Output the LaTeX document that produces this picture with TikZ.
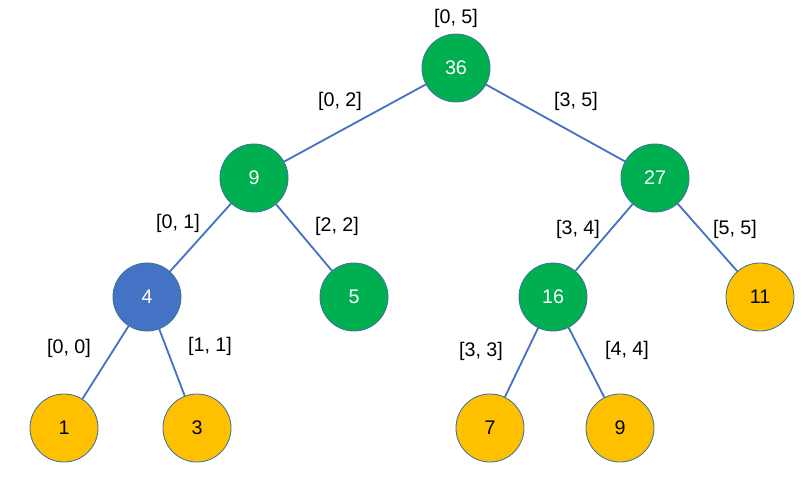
\documentclass[tikz,border=0pt]{standalone}
\usepackage{fontspec}
\setmainfont{Liberation Sans}
\definecolor{sgreen}{HTML}{00B050}
\definecolor{sblue}{HTML}{4472C4}
\definecolor{syellow}{HTML}{FFC000}
\definecolor{sedge}{HTML}{41719C}
\begin{document}
\begin{tikzpicture}[x=0.025cm, y=-0.025cm,
        n/.style={circle, draw=sedge, line width=0.6pt, minimum size=1.7cm, inner sep=0pt,
                  font=\fontsize{14}{16}\selectfont},
        gr/.style={n, fill=sgreen, text=white},
        bl/.style={n, fill=sblue, text=white},
        ye/.style={n, fill=syellow, text=black},
        lab/.style={font=\fontsize{14}{16}\selectfont, inner sep=0pt},
        e/.style={draw=sblue, line width=1.3pt}
    ]
        \useasboundingbox (0,0) rectangle (811,476);
        \node[gr] (r)   at (456,68)  {36};
        \node[gr] (l)   at (254,178) {9};
        \node[gr] (rr)  at (655,178) {27};
        \node[bl] (ll)  at (147,297) {4};
        \node[gr] (lr)  at (354,297) {5};
        \node[gr] (rl)  at (553,297) {16};
        \node[ye] (rrr) at (760,297) {11};
        \node[ye] (a)   at (64,428)  {1};
        \node[ye] (b)   at (197,428) {3};
        \node[ye] (c)   at (490,428) {7};
        \node[ye] (d)   at (620,428) {9};

        \draw[e] (r) -- (l);
        \draw[e] (r) -- (rr);
        \draw[e] (l) -- (ll);
        \draw[e] (l) -- (lr);
        \draw[e] (rr) -- (rl);
        \draw[e] (rr) -- (rrr);
        \draw[e] (ll) -- (a);
        \draw[e] (ll) -- (b);
        \draw[e] (rl) -- (c);
        \draw[e] (rl) -- (d);

        \node[lab] (t05) at (456,18)  {[0, 5]};
        \node[lab] (t02) at (340,101) {[0, 2]};
        \node[lab] (t35) at (576,101) {[3, 5]};
        \node[lab] (t01) at (178,223) {[0, 1]};
        \node[lab] (t22) at (337,226) {[2, 2]};
        \node[lab] (t34) at (578,229) {[3, 4]};
        \node[lab] (t55) at (735,229) {[5, 5]};
        \node[lab] (t00) at (69,348)  {[0, 0]};
        \node[lab] (t11) at (210,346) {[1, 1]};
        \node[lab] (t33) at (481,351) {[3, 3]};
        \node[lab] (t44) at (627,350) {[4, 4]};
    \end{tikzpicture}
\end{document}
